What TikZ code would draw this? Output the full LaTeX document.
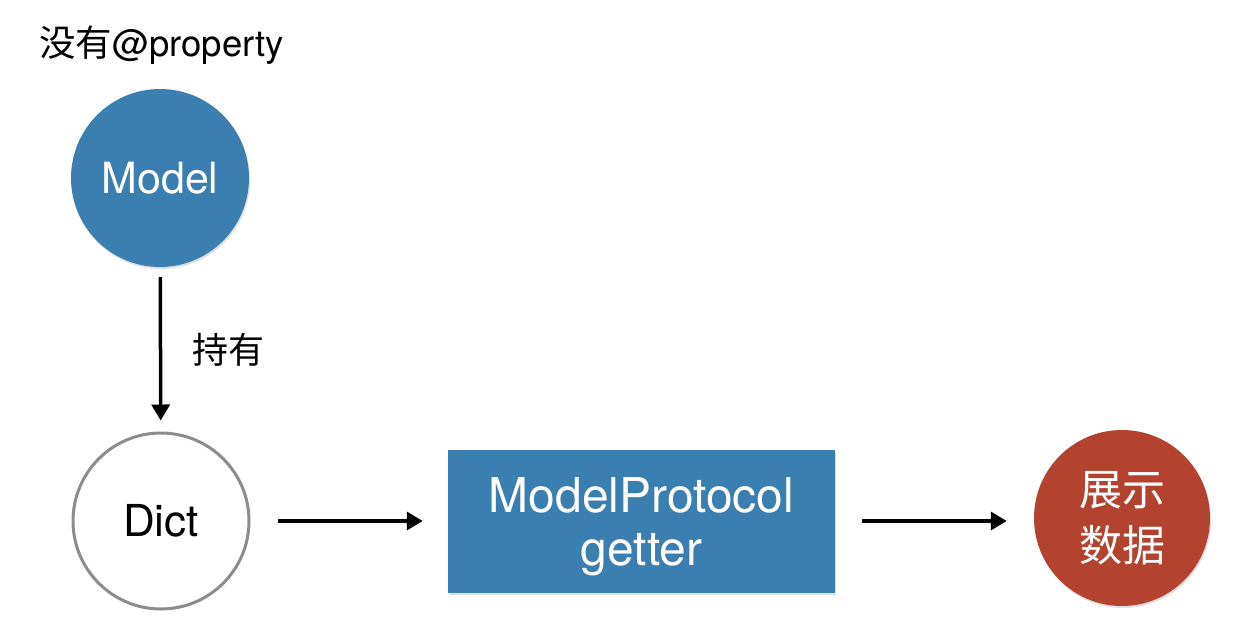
\documentclass[tikz,border=0pt]{standalone}
\usepackage{fontspec}
\setmainfont{TeX Gyre Heros}
\newfontfamily\cjk{Noto Sans CJK SC}
\usetikzlibrary{arrows.meta,shadows}
\definecolor{mblue}{HTML}{3B7FB0}
\definecolor{mred}{HTML}{B3432F}
\definecolor{mgray}{HTML}{8C8C8C}
\tikzset{
  bluecirc/.style={circle,fill=mblue,minimum size=178pt,inner sep=0pt,text=white,
    drop shadow={shadow xshift=1pt,shadow yshift=-2pt,opacity=0.25}},
  redcirc/.style={circle,fill=mred,minimum size=176pt,inner sep=0pt,text=white,align=center,
    drop shadow={shadow xshift=1pt,shadow yshift=-2pt,opacity=0.25}},
  whitecirc/.style={circle,draw=mgray,line width=3pt,fill=white,minimum size=176pt,inner sep=0pt},
  bluebox/.style={rectangle,fill=mblue,minimum width=387pt,minimum height=143pt,inner sep=0pt,
    text=white,align=center,
    drop shadow={shadow xshift=1pt,shadow yshift=-2pt,opacity=0.25}},
  conn/.style={line width=3.5pt,-{Triangle[length=16pt,width=18pt]}},
}
\begin{document}
\begin{tikzpicture}[x=1pt,y=-1pt]
\useasboundingbox (0,0) rectangle (1240,643);
\node[anchor=west,inner sep=0pt,font=\fontsize{36.5}{40}\selectfont] (title) at (39,45) {{\cjk 没有}@property};
\node[bluecirc,font=\fontsize{43}{44}\selectfont] (model) at (160,178) {Model};
\node[whitecirc,font=\fontsize{44}{44}\selectfont] (dict) at (161,521) {Dict};
\node[bluebox,font=\fontsize{48}{53}\selectfont] (getter) at (641.5,521.5) {};
\node[text=white,align=center,font=\fontsize{48}{53}\selectfont] (gtext) at (641.5,527) {ModelProtocol\\getter};
\node[redcirc,font=\cjk\fontsize{43}{56}\selectfont] (show) at (1122,518) {展示\\数据};
\draw[conn,shorten <=10pt,shorten >=11pt] (model) -- (dict) node[midway,right=27pt,font=\cjk\fontsize{36}{36}\selectfont,text=black] (hold) {持有};
\draw[conn,shorten <=27pt,shorten >=25pt] (dict.east) -- (getter.west|-dict.east);
\draw[conn,shorten <=27pt,shorten >=27pt] (getter.east|-dict.east) -- (show.west|-dict.east);
\end{tikzpicture}
\end{document}
